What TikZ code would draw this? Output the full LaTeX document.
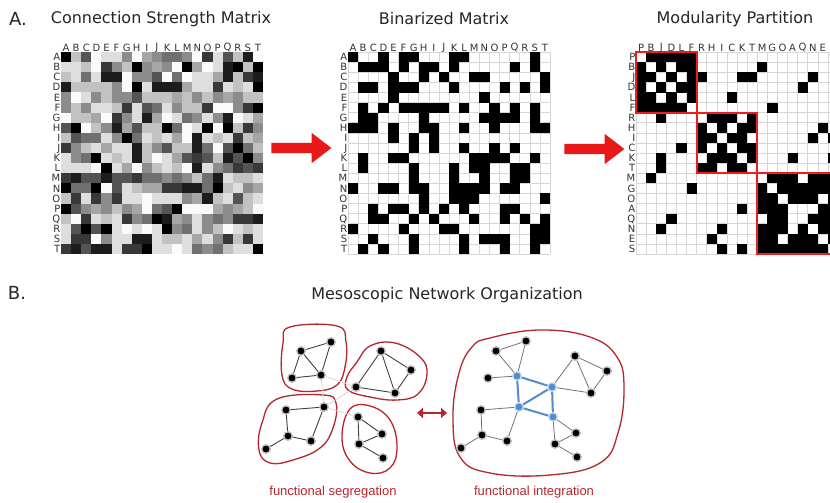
\documentclass[tikz,border=0pt]{standalone}
\usepackage{fontspec}
\setmainfont{DejaVu Sans}
\newfontfamily\capfont{Liberation Sans}
\usetikzlibrary{shapes.arrows, arrows.meta}
\usetikzlibrary{positioning}
\definecolor{blobred}{RGB}{182,38,45}
\definecolor{arrowred}{RGB}{232,24,24}
\definecolor{boxred}{RGB}{236,30,30}
\definecolor{hubblue}{RGB}{82,140,205}
\definecolor{gridgray}{RGB}{214,214,214}
\tikzstyle{panel} = [font=\fontsize{18}{20}\selectfont, text=black!85]
\tikzstyle{title} = [font=\fontsize{16}{18}\selectfont, text=black!85]
\tikzstyle{letter} = [font=\fontsize{10}{10}\selectfont, inner sep=0pt, text=black!80]
\tikzstyle{rowletter} = [letter, anchor=east, text height=7.3pt, text depth=0pt]
\tikzstyle{bigarrow} = [single arrow, fill=arrowred, draw=none, inner xsep=0pt, inner ysep=5pt, minimum height=60pt, single arrow head extend=10pt, single arrow tip angle=75]
\tikzstyle{cellbox} = [fill=black]
\tikzstyle{blackdot} = [circle, fill=black, draw=black!25, line width=1.3pt, inner sep=0pt, minimum size=8.5pt]
\tikzstyle{bluedot} = [circle, fill=hubblue, draw=hubblue!35, line width=1.3pt, inner sep=0pt, minimum size=8.5pt]
\tikzstyle{link} = [draw=black!75, line width=0.9pt]
\tikzstyle{intlink} = [draw=black!55, line width=0.8pt]
\tikzstyle{hublink} = [draw=hubblue, line width=2pt]
\tikzstyle{weaklink} = [draw=black!15, line width=0.8pt]
\tikzstyle{blob} = [draw=blobred, line width=1.3pt]
\tikzstyle{exchange} = [draw=blobred, line width=2.5pt, {Triangle[length=6pt,width=10pt]}-{Triangle[length=6pt,width=10pt]}]
\tikzstyle{caplabel} = [font=\capfont\fontsize{13}{14}\selectfont, text=blobred]

\begin{document}
\begin{tikzpicture}[x=1pt, y=-1pt]
\clip (0,0) rectangle (830,503);
\fill[white] (0,0) rectangle (830,503);

\node (PANELA) [panel] at (18,19) {A.};
\node (STRENGTH) [title] at (161,19) {Connection Strength Matrix};
\node (BINARY) [title] at (444,19) {Binarized Matrix};
\node (MODULAR) [title] at (735,19) {Modularity Partition};

% connection strength matrix
\foreach \vals [count=\r] in {
  {0,7,3,9,8,8,5,9,6,5,4,4,5,9,2,8,3,7,1,9},
  {8,8,7,9,2,5,7,0,5,6,5,9,0,6,9,8,1,0,7,0},
  {7,8,4,8,1,1,9,5,5,3,9,4,9,8,8,6,1,7,2,1},
  {1,7,7,7,7,5,9,0,8,1,1,1,6,8,8,2,8,7,8,0},
  {5,9,8,5,7,5,5,3,7,7,7,6,7,5,7,5,6,5,7,7},
  {5,7,5,8,8,7,2,8,3,4,8,5,7,7,2,9,9,5,2,0},
  {9,7,7,6,9,2,5,8,1,6,9,8,4,5,8,5,1,9,8,6},
  {3,0,9,7,5,1,6,3,7,7,0,4,9,8,0,9,0,7,2,5},
  {7,3,4,4,8,5,0,4,8,7,8,6,9,1,8,7,8,2,7,6},
  {2,5,7,8,6,8,8,1,7,5,3,7,7,1,4,9,3,0,4,7},
  {8,5,4,0,8,7,8,1,7,9,8,6,3,2,3,7,1,3,0,5},
  {8,8,8,9,0,8,6,9,5,7,8,7,9,1,8,5,4,2,3,2},
  {2,1,3,3,1,3,3,2,4,4,5,4,5,7,4,1,8,7,7,8},
  {0,4,4,0,9,3,8,7,6,6,2,2,1,1,4,0,7,8,5,6},
  {7,2,8,2,5,2,8,8,9,8,8,8,5,6,1,7,8,3,7,8},
  {0,3,5,6,5,7,5,6,9,4,3,0,9,9,9,6,5,6,7,9},
  {7,9,2,8,7,8,2,5,4,0,1,6,5,8,5,4,5,2,2,1},
  {8,3,0,3,0,8,9,8,9,8,0,5,4,8,5,7,9,8,7,8},
  {8,2,2,9,5,8,8,1,1,8,7,7,8,6,8,5,2,7,2,8},
  {2,1,3,1,1,8,2,2,0,8,8,9,8,4,5,4,7,8,8,0}} {
  \foreach \g [count=\c] in \vals {
    \pgfmathtruncatemacro\pct{100-10.8*\g}
    \fill[black!\pct] ({61+(\c-1)*10.1},{52+(\r-1)*10.1}) rectangle +(10.4,10.4);
  }
}

% binarized matrix
\foreach \k in {0,...,20} {
  \draw[gridgray, line width=0.5pt] ({348+\k*10.1},52) -- ({348+\k*10.1},254);
  \draw[gridgray, line width=0.5pt] (348,{52+\k*10.1}) -- (550,{52+\k*10.1});
}
\foreach \cols [count=\r] in {
  {1,4,6,7,11,12,19}, {2,3,4,6,8,9,11,17,19}, {5,8,10,13,14,20},
  {2,3,5,6,7,11,16,18,20}, {5,14}, {2,4,6,7,8,9,10,12,15,17,19},
  {2,3,8,14,15,16,17,19}, {1,2,3,5,8,9,12,15,19,20}, {5,7,9},
  {7,9,12,15,17}, {2,5,6,13,14,15,16,19}, {2,7,11,13,14,17,18},
  {7,11,14,17,18}, {1,4,5,7,8,11,12,13,14,16,17}, {8,11,12,13,20},
  {3,5,6,8,10,12,16,17}, {3,4,7,9,13,16,18,20}, {1,6,10,11,19,20},
  {3,7,12,14,15,16,19,20}, {2,4,7,12,16,19}} {
  \foreach \c in \cols {
    \fill[cellbox] ({348+(\c-1)*10.1},{52+(\r-1)*10.1}) rectangle +(10.2,10.2);
  }
}

% modularity partition
\foreach \k in {0,...,20} {
  \draw[gridgray, line width=0.5pt] ({636+\k*10.1},52) -- ({636+\k*10.1},254);
  \draw[gridgray, line width=0.5pt] (636,{52+\k*10.1}) -- (838,{52+\k*10.1});
}
\foreach \cols [count=\r] in {
  {2,3,4,5,6}, {1,3,5,6,13}, {1,2,4,6,7,11,12,18}, {1,3,5,6,17},
  {1,2,4,6,10}, {1,2,3,4,5,14}, {3,8,9,10,12}, {7,9,11,12,19},
  {7,8,10,11,18,20}, {5,7,9,11,12}, {3,8,9,10,12,16,20}, {3,7,8,10,11},
  {2,14,15,16,18,19,20}, {6,13,15,16,17,18,19,20}, {13,14,16,17,18,20},
  {11,13,14,15,19,20}, {4,14,15,18,19,20}, {3,9,13,14,15,17,19,20},
  {8,13,14,16,17,18,20}, {9,11,13,14,15,16,17,18,19}} {
  \foreach \c in \cols {
    \fill[cellbox] ({636+(\c-1)*10.1},{52+(\r-1)*10.1}) rectangle +(10.2,10.2);
  }
}
\draw[boxred, line width=2pt] (636,52) rectangle +(60.6,60.6);
\draw[boxred, line width=2pt] (696.6,112.6) rectangle +(60.6,60.6);
\draw[boxred, line width=2pt] (757.2,173.2) rectangle +(80.8,80.8);

% letters
\foreach \l [count=\i] in {A,B,C,D,E,F,G,H,I,J,K,L,M,N,O,P,Q,R,S,T} {
  \node (STRCOL\i) [letter] at ({61+(\i-0.5)*10.1},47.5) {\l};
  \node (STRROW\i) [rowletter] at (60.5,{52+(\i-0.5)*10.1}) {\l};
  \node (BINCOL\i) [letter] at ({348+(\i-0.5)*10.1},47.5) {\l};
  \node (BINROW\i) [rowletter] at (347.5,{52+(\i-0.5)*10.1}) {\l};
}
\foreach \l [count=\i] in {P,B,J,D,L,F,R,H,I,C,K,T,M,G,O,A,Q,N,E,S} {
  \node (MODCOL\i) [letter] at ({636+(\i-0.5)*10.1},47.5) {\l};
  \node (MODROW\i) [rowletter] at (635.5,{52+(\i-0.5)*10.1}) {\l};
}

\node (STEPONE) [bigarrow] at (298,148) {};
\node (STEPTWO) [bigarrow] at (591,149) {};

\node (PANELB) [panel] at (17,293) {B.};
\node (MESO) [title] at (447,295) {Mesoscopic Network Organization};

% segregated modules
\draw [blob] plot [smooth cycle, tension=0.7] coordinates {(290,327) (337,326) (346,342) (345,367) (337,385) (317,391) (292,389) (282,375) (283,343)};
\draw [blob] plot [smooth cycle, tension=0.7] coordinates {(370,346) (395,343) (420,357) (427,374) (418,394) (397,400) (370,397) (348,390) (347,377) (357,362)};
\draw [blob] plot [smooth cycle, tension=0.7] coordinates {(277,399) (323,395) (336,403) (333,428) (320,448) (293,460) (270,463) (259,450) (262,423)};
\draw [blob] plot [smooth cycle, tension=0.7] coordinates {(350,409) (370,406) (390,420) (397,447) (390,468) (370,473) (350,461) (342,437)};

\node (MA1) [blackdot] at (331,342) {};
\node (MA2) [blackdot] at (301,351) {};
\node (MA3) [blackdot] at (292,378) {};
\node (MA4) [blackdot] at (321,375) {};
\node (MB1) [blackdot] at (381,351) {};
\node (MB2) [blackdot] at (411,370) {};
\node (MB3) [blackdot] at (356,387) {};
\node (MB4) [blackdot] at (395,393) {};
\node (MC1) [blackdot] at (286,410) {};
\node (MC2) [blackdot] at (324,407) {};
\node (MC3) [blackdot] at (288,436) {};
\node (MC4) [blackdot] at (311,441) {};
\node (MC5) [blackdot] at (266,449) {};
\node (MD1) [blackdot] at (358,417) {};
\node (MD2) [blackdot] at (382,434) {};
\node (MD3) [blackdot] at (359,444) {};
\node (MD4) [blackdot] at (383,458) {};

\draw [weaklink] (MA4) -- (MB3);
\draw [weaklink] (MA4) -- (MC2);
\draw [weaklink] (MC2) -- (MD1);
\draw [weaklink] (MB3) -- (MC2);
\draw [link] (MA2) -- (MA1);
\draw [link] (MA1) -- (MA4);
\draw [link] (MA2) -- (MA4);
\draw [link] (MA2) -- (MA3);
\draw [link] (MA3) -- (MA4);
\draw [link] (MB1) -- (MB2);
\draw [link] (MB1) -- (MB3);
\draw [link] (MB1) -- (MB4);
\draw [link] (MB3) -- (MB4);
\draw [link] (MB4) -- (MB2);
\draw [link] (MC1) -- (MC2);
\draw [link] (MC2) -- (MC4);
\draw [link] (MC1) -- (MC3);
\draw [link] (MC3) -- (MC4);
\draw [link] (MC3) -- (MC5);
\draw [link] (MD1) -- (MD2);
\draw [link] (MD1) -- (MD3);
\draw [link] (MD3) -- (MD2);
\draw [link] (MD3) -- (MD4);

\coordinate (SWAPL) at (417,413);
\coordinate (SWAPR) at (447,413);
\draw [exchange] (SWAPL) -- (SWAPR);

% integrated network
\draw [blob] plot [smooth cycle, tension=0.7] coordinates {(490,338) (540,330) (590,337) (617,357) (624,388) (618,433) (600,463) (550,475) (490,473) (460,457) (453,417) (459,373) (472,347)};

\node (H1) [bluedot] at (517,376) {};
\node (H2) [bluedot] at (552,387) {};
\node (H3) [bluedot] at (519,407) {};
\node (H4) [bluedot] at (553,417) {};
\node (NA1) [blackdot] at (526,341) {};
\node (NA2) [blackdot] at (496,351) {};
\node (NA3) [blackdot] at (488,378) {};
\node (NB1) [blackdot] at (575,356) {};
\node (NB2) [blackdot] at (607,371) {};
\node (NB3) [blackdot] at (591,393) {};
\node (NC1) [blackdot] at (481,410) {};
\node (NC2) [blackdot] at (482,435) {};
\node (NC3) [blackdot] at (507,441) {};
\node (NC4) [blackdot] at (461,448) {};
\node (ND1) [blackdot] at (576,433) {};
\node (ND2) [blackdot] at (555,444) {};
\node (ND3) [blackdot] at (577,457) {};

\draw [intlink] (NA2) -- (NA1);
\draw [intlink] (NA1) -- (H1);
\draw [intlink] (NA2) -- (H1);
\draw [intlink] (NA3) -- (H1);
\draw [intlink] (H2) -- (NB1);
\draw [intlink] (NB1) -- (NB2);
\draw [intlink] (NB2) -- (NB3);
\draw [intlink] (NB3) -- (NB1);
\draw [intlink] (H2) -- (NB3);
\draw [intlink] (H3) -- (NC1);
\draw [intlink] (NC1) -- (NC2);
\draw [intlink] (NC2) -- (NC4);
\draw [intlink] (NC2) -- (NC3);
\draw [intlink] (NC3) -- (H3);
\draw [intlink] (H4) -- (ND1);
\draw [intlink] (H4) -- (ND2);
\draw [intlink] (ND2) -- (ND1);
\draw [intlink] (ND2) -- (ND3);
\draw [hublink] (H1) -- (H2);
\draw [hublink] (H1) -- (H3);
\draw [hublink] (H3) -- (H2);
\draw [hublink] (H2) -- (H4);
\draw [hublink] (H3) -- (H4);

\node (SEG) [caplabel] at (333,492) {functional segregation};
\node (INT) [caplabel] at (534,492) {functional integration};
\end{tikzpicture}
\end{document}
